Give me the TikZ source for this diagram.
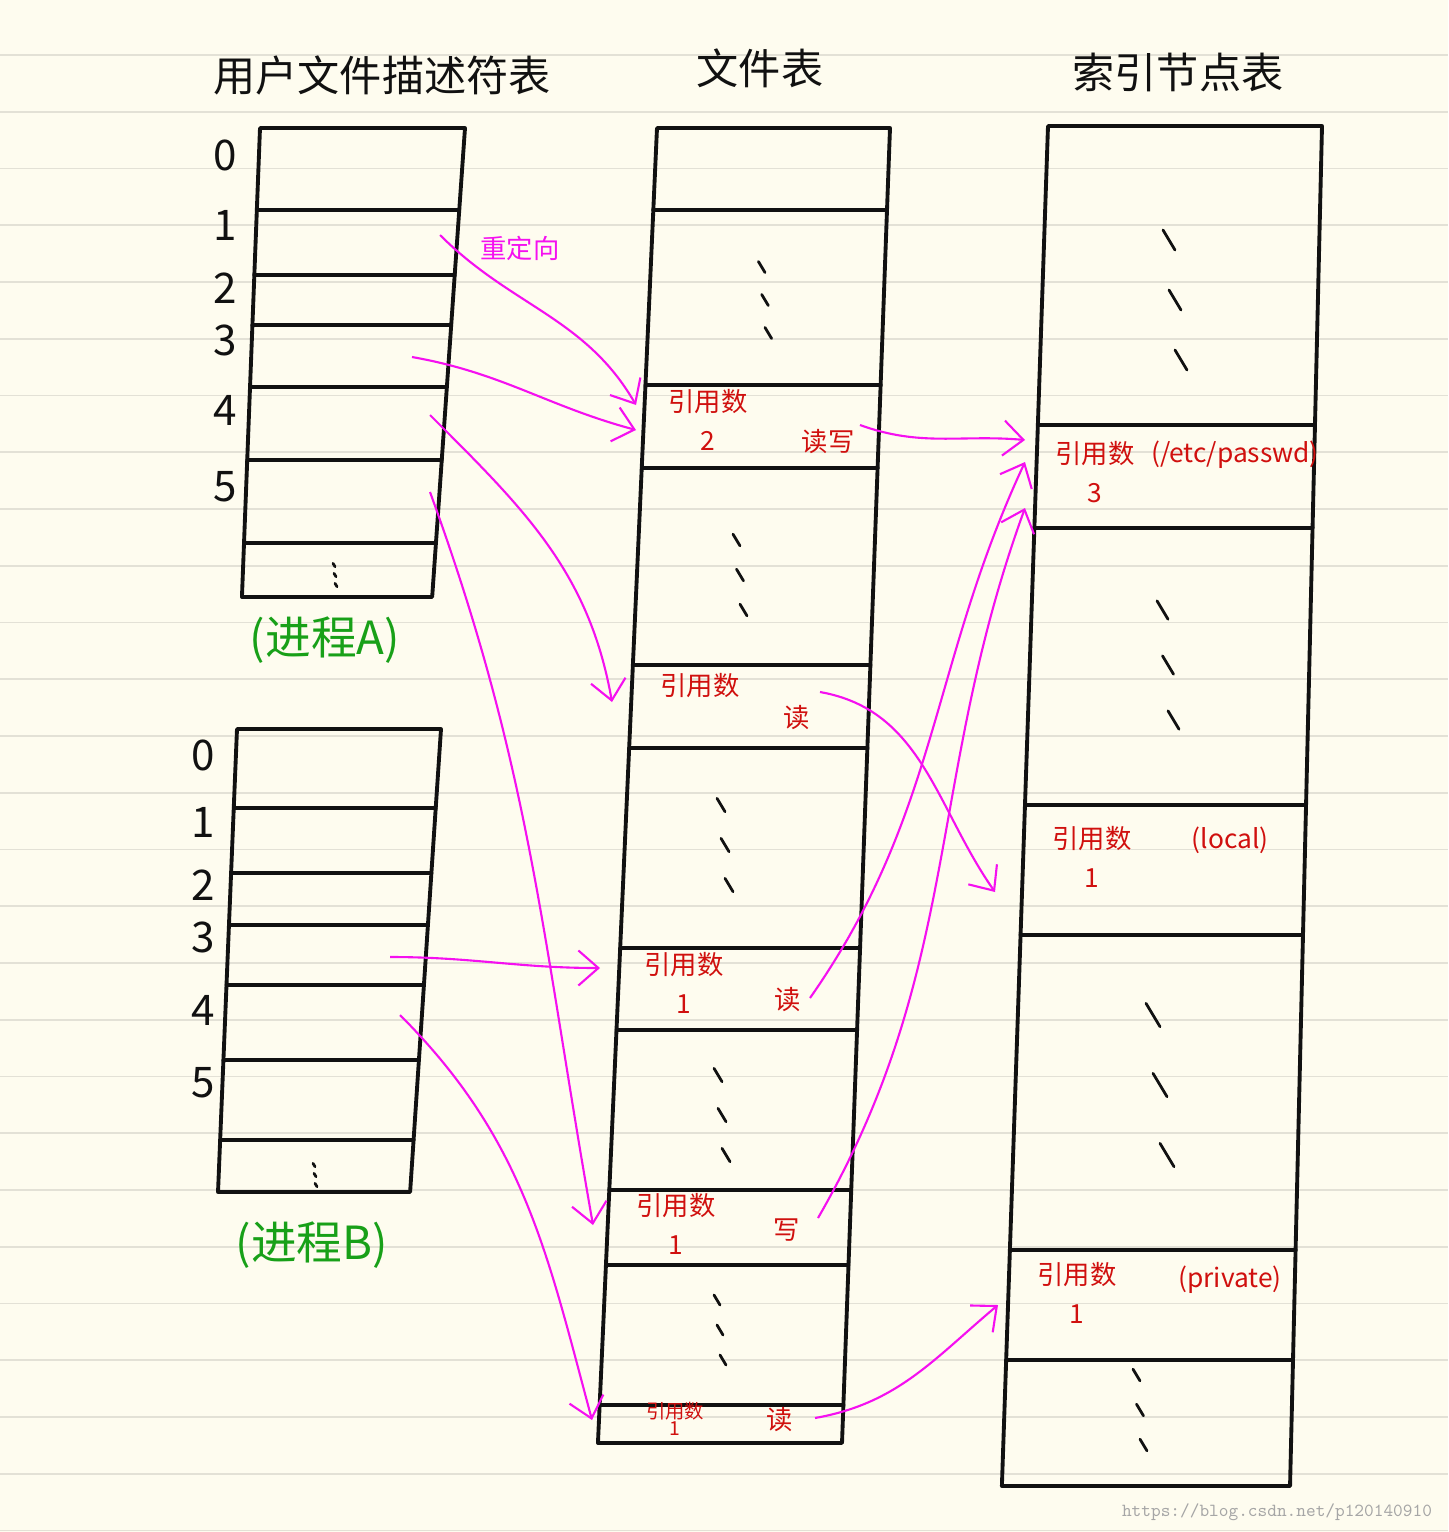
\documentclass[tikz,border=0pt]{standalone}
\usepackage{fontspec}
\newfontfamily\cjk{Noto Sans CJK SC}
\usepackage{xcolor}
\usepackage{tikz}
\usetikzlibrary{arrows.meta}
\definecolor{paper}{HTML}{FEFCEF}
\definecolor{ruling}{HTML}{E3E1D6}
\definecolor{inkblack}{HTML}{111111}
\definecolor{redpen}{HTML}{D0100E}
\definecolor{magpen}{HTML}{F510F0}
\definecolor{greenpen}{HTML}{18A018}
\tikzset{ink/.style={inkblack,line width=2.2pt,line join=round,line cap=round},
marrow/.style={-{Straight Barb[length=4mm,width=7mm]},magpen,line width=1.2pt},
rule/.style={ruling,line width=1pt},
ttl/.style={font=\cjk\fontsize{24}{26}\selectfont,inkblack},
idx/.style={font=\cjk\fontsize{24}{26}\selectfont,inkblack},
note/.style={font=\cjk\fontsize{15}{22}\selectfont,redpen,align=center},
proc/.style={font=\cjk\fontsize{26}{28}\selectfont,greenpen}}
\newcommand{\tabframe}[7]{%
\draw[ink] (#1,#3) -- (#2,#3) -- ({#2-#6*(#4-#3)},#4) -- ({#1-#5*(#4-#3)},#4) -- cycle;
\foreach \y in {#7}
\draw[ink] ({#1-#5*(\y-#3)},\y) -- ({#2-#6*(\y-#3)},\y);}
\newcommand{\vdts}[3]{\foreach \k in {-1,0,1}
\draw[ink,line width=1.6pt] ({#1+\k*#3/10-#3/10},{#2+\k*#3-#3/6}) -- ({#1+\k*#3/10+#3/10},{#2+\k*#3+#3/6});}

\begin{document}
\begin{tikzpicture}[x=0.02cm,y=-0.02cm]
\useasboundingbox (0,0) rectangle (1448,1532);
\fill[paper] (0,0) rectangle (1448,1532);
\foreach \k in {0,...,26}
\draw[rule] (0,{55+56.75*\k}) -- (1448,{55+56.75*\k});

\node[ttl] (ufd) at (382,75) {用户文件描述符表};
\node[ttl] (ftab) at (760,68) {文件表};
\node[ttl] (itab) at (1178,72) {索引节点表};

\tabframe{260}{465}{128}{597}{0.0385}{0.07}{210,275,325,387,460,543}
\tabframe{237}{441}{729}{1192}{0.041}{0.0667}{808,873,925,985,1060,1140}
\tabframe{657}{890}{128}{1443}{0.0449}{0.0365}{210,385,468,665,748,948,1030,1190,1265,1405}
\tabframe{1048}{1322}{126}{1486}{0.0339}{0.0235}{425,528,805,935,1250,1360}

\foreach \n/\y in {0/155,1/225,2/288,3/340,4/410,5/487}
\node[idx] (a\n) at (225,\y) {\n};
\foreach \n/\y in {0/755,1/822,2/885,3/937,4/1010,5/1083}
\node[idx] (b\n) at (203,\y) {\n};
\node[proc] (pa) at (325,640) {(进程A)};
\node[proc] (pb) at (312,1245) {(进程B)};

\vdts{335}{575}{10}
\vdts{315}{1175}{10}
\vdts{765}{300}{33}
\vdts{740}{575}{35}
\vdts{725}{845}{40}
\vdts{722}{1115}{40}
\vdts{720}{1330}{30}
\vdts{1175}{300}{60}
\vdts{1168}{665}{55}
\vdts{1160}{1085}{70}
\vdts{1140}{1410}{35}

\node[note] (e1) at (708,420) {引用数\\2};
\node[note] (e1m) at (828,442) {读写};
\node[note] (e2) at (700,686) {引用数};
\node[note] (e2m) at (797,718) {读};
\node[note] (e3) at (684,983) {引用数\\1};
\node[note] (e3m) at (788,1000) {读};
\node[note] (e4) at (676,1224) {引用数\\1};
\node[note] (e4m) at (787,1230) {写};
\node[note,font=\cjk\fontsize{11}{10}\selectfont] (e5) at (675,1419) {引用数\\1};
\node[note] (e5m) at (780,1420) {读};
\node[note] (i1) at (1095,472) {引用数\\3};
\node[note] (i1m) at (1235,455) {(/etc/passwd)};
\node[note] (i2) at (1092,857) {引用数\\1};
\node[note] (i2m) at (1230,840) {(local)};
\node[note] (i3) at (1077,1293) {引用数\\1};
\node[note] (i3m) at (1230,1280) {(private)};
\node[font=\cjk\fontsize{15}{18}\selectfont,magpen] (redir) at (520,248) {重定向};

\foreach \n/\x/\y in {1/440/235,2/412/357,3/430/415,4/430/492,5/390/957,6/400/1015,
7/860/425,8/820/692,9/810/998,10/818/1218,11/815/1418}
\coordinate (s\n) at (\x,\y);
\foreach \n/\x/\y in {1/636/405,2/636/430,3/612/702,4/593/1225,5/600/968,6/592/1420,
7/1025/440,8/995/892,9/1025/462,10/1025/508,11/998/1305}
\coordinate (t\n) at (\x,\y);
\foreach \n/\o/\i in {1/-45/120,2/-10/165,3/-45/100,4/-70/100,5/0/180,6/-45/105,
7/-20/175,8/-10/125,9/55/-115,10/60/-110,11/10/-140}
\draw[marrow] (s\n) to[out=\o,in=\i] (t\n);

\node[font=\ttfamily\fontsize{10.5}{12}\selectfont,gray!70] (wm) at (1277,1512) {https://blog.csdn.net/p120140910};
\end{tikzpicture}
\end{document}
